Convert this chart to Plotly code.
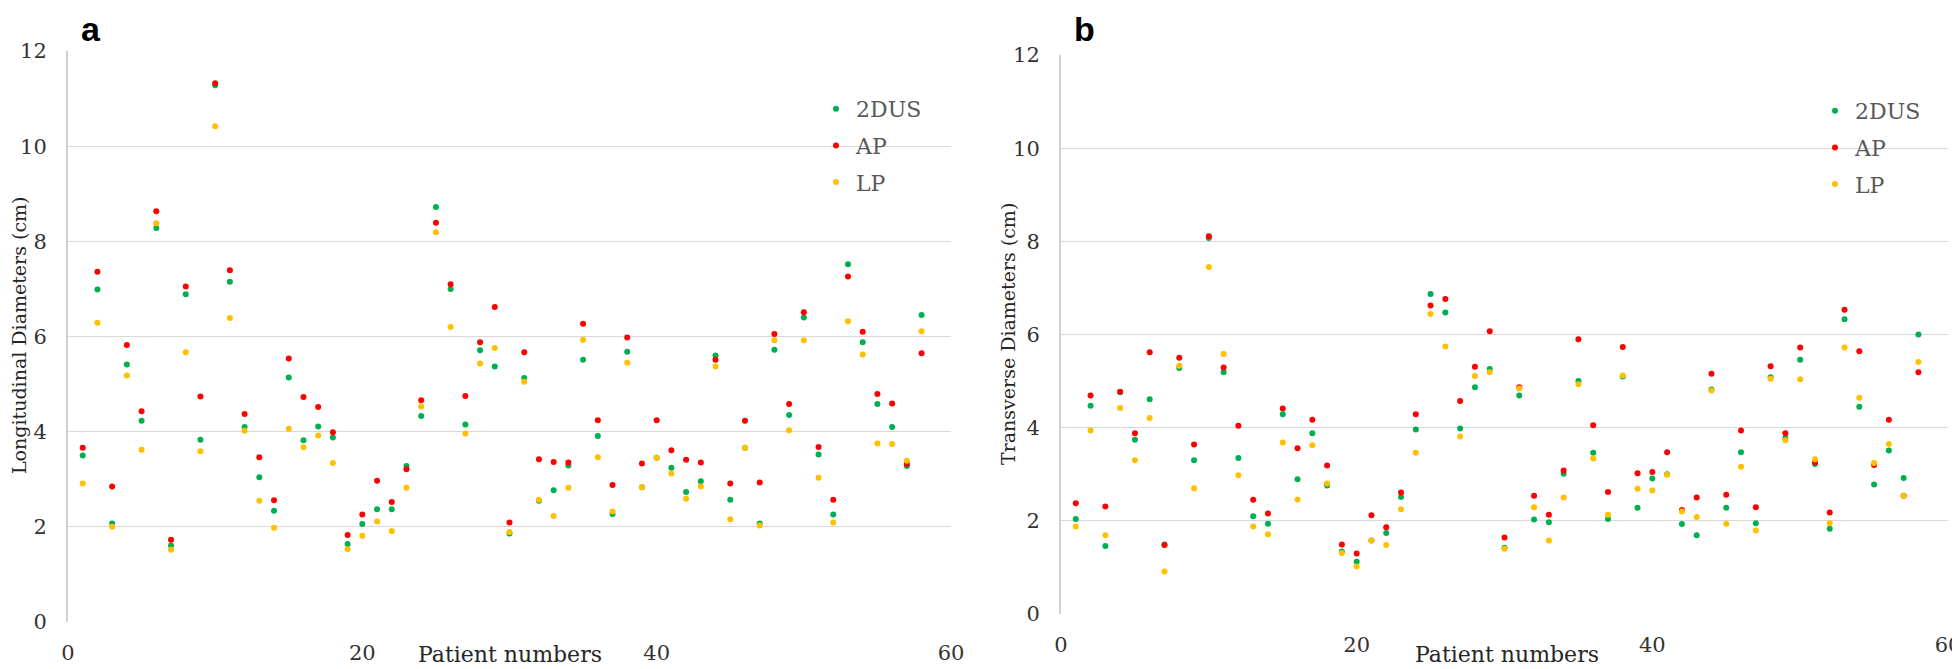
import plotly.graph_objects as go

patients = list(range(1, 59))

# Panel a: Longitudinal diameters (cm)
long_2dus = [3.50, 6.99, 2.07, 5.41, 4.23, 8.28, 1.61, 6.89, 3.83, 11.28,
             7.15, 4.10, 3.04, 2.34, 5.14, 3.82, 4.11, 3.88, 1.64, 2.06,
             2.37, 2.37, 3.28, 4.33, 8.72, 7.00, 4.15, 5.71, 5.37, 1.86,
             5.13, 2.55, 2.77, 3.29, 5.51, 3.91, 2.27, 5.68, 2.83, 3.45,
             3.24, 2.73, 2.96, 5.60, 2.57, 3.66, 2.07, 5.72, 4.35, 6.40,
             3.52, 2.26, 7.52, 5.88, 4.58, 4.10, 3.28, 6.45]
long_ap = [3.66, 7.36, 2.85, 5.82, 4.43, 8.63, 1.73, 7.05, 4.74, 11.32,
           7.39, 4.37, 3.46, 2.56, 5.54, 4.73, 4.52, 3.99, 1.83, 2.26,
           2.97, 2.52, 3.21, 4.66, 8.39, 7.10, 4.75, 5.88, 6.62, 2.09,
           5.67, 3.42, 3.36, 3.35, 6.27, 4.24, 2.88, 5.98, 3.33, 4.24,
           3.61, 3.41, 3.35, 5.51, 2.91, 4.23, 2.93, 6.05, 4.58, 6.51,
           3.68, 2.57, 7.26, 6.10, 4.79, 4.59, 3.32, 5.65]
long_lp = [2.91, 6.29, 2.00, 5.18, 3.62, 8.38, 1.52, 5.67, 3.59, 10.42,
           6.39, 4.02, 2.55, 1.98, 4.06, 3.67, 3.92, 3.34, 1.53, 1.81,
           2.11, 1.91, 2.82, 4.53, 8.19, 6.20, 3.96, 5.43, 5.76, 1.89,
           5.05, 2.57, 2.23, 2.82, 5.93, 3.46, 2.32, 5.45, 2.83, 3.45,
           3.12, 2.59, 2.85, 5.37, 2.16, 3.66, 2.03, 5.92, 4.03, 5.92,
           3.03, 2.09, 6.32, 5.62, 3.75, 3.74, 3.39, 6.11]

# Panel b: Transverse diameters (cm)
trans_2dus = [2.04, 4.47, 1.46, 4.76, 3.74, 4.61, 1.49, 5.28, 3.30, 8.07,
              5.19, 3.35, 2.10, 1.94, 4.29, 2.89, 3.88, 2.76, 1.34, 1.12,
              1.58, 1.74, 2.51, 3.96, 6.87, 6.47, 3.98, 4.87, 5.26, 1.42,
              4.69, 2.03, 1.97, 3.01, 5.00, 3.46, 2.04, 5.10, 2.28, 2.91,
              3.00, 1.93, 1.69, 4.82, 2.28, 3.47, 1.95, 5.08, 3.78, 5.46,
              3.22, 1.83, 6.33, 4.45, 2.78, 3.51, 2.92, 6.00]
trans_ap = [2.38, 4.69, 2.31, 4.77, 3.88, 5.62, 1.48, 5.50, 3.64, 8.11,
            5.29, 4.04, 2.45, 2.16, 4.41, 3.56, 4.17, 3.19, 1.49, 1.30,
            2.12, 1.86, 2.61, 4.29, 6.62, 6.76, 4.57, 5.31, 6.07, 1.64,
            4.87, 2.54, 2.13, 3.08, 5.90, 4.05, 2.62, 5.73, 3.02, 3.05,
            3.47, 2.23, 2.50, 5.16, 2.56, 3.94, 2.29, 5.32, 3.88, 5.72,
            3.26, 2.18, 6.53, 5.64, 3.20, 4.17, 2.54, 5.19]
trans_lp = [1.88, 3.94, 1.69, 4.42, 3.30, 4.21, 0.91, 5.33, 2.70, 7.45,
            5.58, 2.98, 1.88, 1.71, 3.68, 2.46, 3.62, 2.80, 1.31, 1.02,
            1.58, 1.48, 2.25, 3.46, 6.44, 5.74, 3.81, 5.11, 5.19, 1.40,
            4.84, 2.29, 1.58, 2.50, 4.93, 3.34, 2.13, 5.12, 2.69, 2.65,
            2.99, 2.20, 2.08, 4.80, 1.94, 3.16, 1.79, 5.05, 3.73, 5.04,
            3.32, 1.95, 5.72, 4.64, 3.24, 3.65, 2.54, 5.41]

series_names = ["2DUS", "AP", "LP"]
series_colors = ["#00b050", "#ff0000", "#ffc000"]
x_ticks = [0, 20, 40, 60]
y_ticks = [0, 2, 4, 6, 8, 10, 12]

# The page body has an 8px margin; size the figure to fill the rest of the window
OFF = 8
W, H = 1960 - OFF, 669 - OFF
def px(v):  # page pixel x -> paper fraction
    return (v - OFF) / W
def py(v):  # page pixel y (from top) -> paper fraction
    return 1 - (v - OFF) / H

fig = go.Figure()

left_sets = [long_2dus, long_ap, long_lp]
right_sets = [trans_2dus, trans_ap, trans_lp]
for i, (name, col) in enumerate(zip(series_names, series_colors)):
    fig.add_trace(go.Scatter(x=patients, y=left_sets[i], mode="markers", name=name,
                             marker=dict(color=col, size=6), xaxis="x", yaxis="y",
                             legend="legend", legendgroup="a" + name))
for i, (name, col) in enumerate(zip(series_names, series_colors)):
    fig.add_trace(go.Scatter(x=patients, y=right_sets[i], mode="markers", name=name,
                             marker=dict(color=col, size=6), xaxis="x2", yaxis="y2",
                             legend="legend2", legendgroup="b" + name))

tick_font = dict(family="DejaVu Serif", size=21, color="#333333")
axis_common_x = dict(range=[0, 60], tickvals=x_ticks, showgrid=False, zeroline=False,
                     showline=False, tickfont=tick_font, ticks="", ticklabelstandoff=16,
                     automargin=False, ticklabeloverflow="allow")
axis_common_y = dict(range=[0, 12], tickvals=y_ticks, showgrid=True, gridcolor="#d9d9d9",
                     gridwidth=1, zeroline=False, showline=True, linecolor="#d0d0d0",
                     linewidth=2, tickfont=tick_font, ticks="", ticklabelstandoff=15,
                     automargin=False, ticklabeloverflow="allow")

legend_common = dict(font=dict(family="DejaVu Serif", size=22, color="#595959"),
                     bgcolor="rgba(0,0,0,0)", borderwidth=0, xanchor="left",
                     yanchor="top", tracegroupgap=5, itemclick=False)

fig.update_layout(
    width=W, height=H,
    margin=dict(l=0, r=0, t=0, b=0, autoexpand=False),
    paper_bgcolor="white", plot_bgcolor="white",
    xaxis=dict(domain=[px(68), px(951)], anchor="y", **axis_common_x),
    yaxis=dict(domain=[py(622), py(51)], anchor="x", **axis_common_y),
    xaxis2=dict(domain=[px(1061), px(1948)], anchor="y2", **axis_common_x),
    yaxis2=dict(domain=[py(614), py(55)], anchor="x2", **axis_common_y),
    legend=dict(x=px(816), y=py(88), **legend_common),
    legend2=dict(x=px(1815), y=py(90), **legend_common),
    showlegend=True,
)

title_font = dict(family="DejaVu Serif", size=19, color="#262626")
xtitle_font = dict(family="DejaVu Serif", size=22, color="#262626")
label_font = dict(family="Liberation Sans", size=34, color="black")
annotations = [
    dict(text="Longitudinal Diameters (cm)", x=px(19), y=py(336), textangle=-90,
         font=title_font),
    dict(text="Transverse Diameters (cm)", x=px(1008), y=py(334), textangle=-90,
         font=title_font),
    dict(text="Patient numbers", x=px(510), y=py(654), font=xtitle_font),
    dict(text="Patient numbers", x=px(1507), y=py(654), font=xtitle_font),
    dict(text="<b>a</b>", x=px(91), y=1, yanchor="top", font=label_font),
    dict(text="<b>b</b>", x=px(1084), y=1, yanchor="top", font=label_font),
]
for a in annotations:
    a.update(xref="paper", yref="paper", showarrow=False, xanchor="center")
    a.setdefault("yanchor", "middle")
fig.update_layout(annotations=annotations)

fig.write_html("out.html")
